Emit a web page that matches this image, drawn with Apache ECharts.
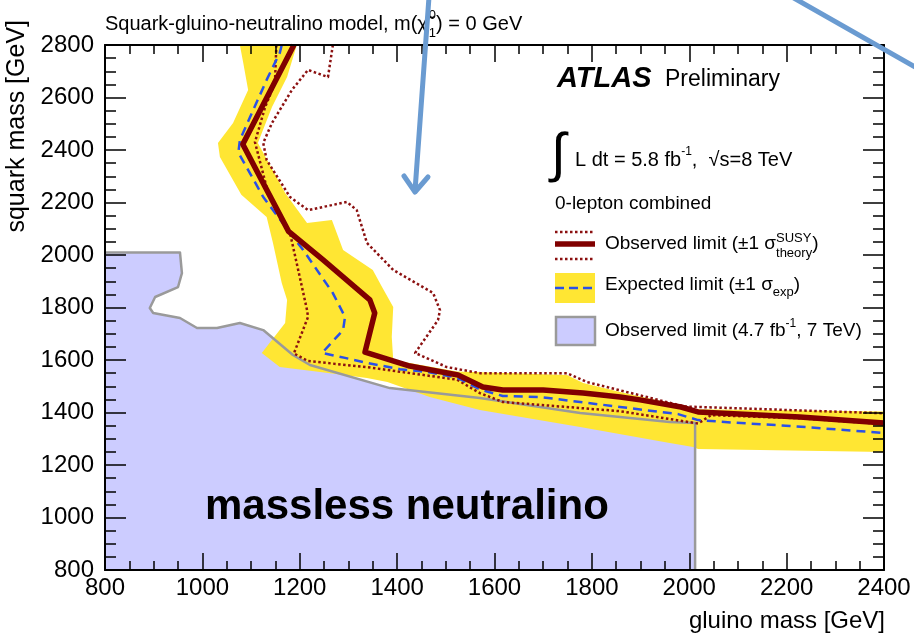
<!DOCTYPE html>
<html>
<head>
<meta charset="utf-8">
<script src="https://cdn.jsdelivr.net/npm/echarts@6/dist/echarts.min.js"></script>
<style>
html,body{margin:0;padding:0;background:#fff;}
#chart{width:914px;height:635px;}
</style>
</head>
<body>
<div id="chart"></div>
<script>
// ---- axis ranges [min, max, major step] ----
const gluinoAxis = [800, 2400, 200];
const squarkAxis = [800, 2800, 200];

// ---- data: [gluino mass, squark mass] in GeV ----
const observedLimit = [[1188,2800],[1083,2422],[1177,2090],[1248,1981],[1344,1829],[1354,1779],[1334,1630],[1426,1577],[1525,1543],[1576,1497],[1617,1486],[1700,1486],[1782,1474],[1858,1459],[1899,1448],[1983,1421],[2018,1402],[2227,1383],[2400,1360]];
const observedUp = [[1268,2800],[1258,2678],[1217,2705],[1184,2629],[1143,2503],[1125,2427],[1132,2362],[1180,2221],[1217,2171],[1297,2202],[1317,2171],[1338,2046],[1392,1943],[1474,1855],[1488,1790],[1484,1752],[1437,1627],[1502,1573],[1570,1550],[1749,1550],[1790,1516],[1990,1423],[2400,1397]];
const observedDown = [[1152,2800],[1149,2655],[1129,2564],[1108,2430],[1135,2236],[1180,2084],[1215,1790],[1217,1764],[1188,1625],[1217,1596],[1338,1573],[1523,1525],[1570,1474],[1617,1440],[1776,1417],[1858,1405],[2018,1358],[2045,1390],[2227,1378],[2400,1356]];
const expectedLimit = [[1163,2800],[1159,2770],[1132,2667],[1077,2438],[1074,2390],[1125,2221],[1180,2084],[1207,2019],[1268,1855],[1293,1764],[1289,1714],[1246,1627],[1293,1608],[1338,1589],[1406,1565],[1460,1555],[1523,1533],[1570,1488],[1617,1463],[1693,1459],[1776,1440],[1858,1421],[1977,1394],[2018,1371],[2088,1362],[2207,1349],[2400,1322]];
const bandUpper = [[1194,2800],[1174,2678],[1143,2564],[1114,2427],[1170,2236],[1215,2122],[1266,2133],[1289,2019],[1350,1943],[1369,1878],[1392,1802],[1389,1688],[1392,1600],[1523,1556],[1749,1543],[1782,1512],[1858,1478],[1983,1427],[2018,1412],[2400,1404]];
const bandLower = [[1077,2800],[1084,2731],[1094,2629],[1063,2503],[1032,2427],[1036,2373],[1080,2230],[1132,2145],[1145,2046],[1163,1893],[1174,1829],[1170,1741],[1122,1627],[1159,1573],[1242,1554],[1338,1531],[1380,1516],[1467,1459],[1570,1410],[1776,1345],[1960,1284],[2008,1269],[2018,1261],[2400,1250]];
const prev7TeV = [[800,2010],[954,2010],[958,1931],[950,1878],[903,1840],[892,1798],[899,1779],[954,1760],[989,1722],[1030,1722],[1077,1741],[1125,1714],[1186,1619],[1221,1581],[1385,1493],[1570,1455],[1776,1398],[1960,1364],[2012,1360],[2012,800]];
const prev7TeVCorner = [[800,800]];

const FONT = "'Liberation Sans', Arial, Helvetica, sans-serif";
const C_YELLOW = '#ffe633', C_PURPLE = '#ccccff', C_GREY = '#9a9a9a';
const C_RED = '#800000', C_DOT = '#8b1010', C_BLUE = '#2a50e8', C_ARROW = '#6a9bd1';

const mctx = document.createElement('canvas').getContext('2d');
function fontStr(p){ return (p.italic?'italic ':'') + (p.bold?'bold ':'') + p.size + 'px ' + FONT; }
function run(x, y, pieces){
  const out = []; let cx = x, start = x;
  for (const p of pieces){
    const f = fontStr(p); mctx.font = f; const w = mctx.measureText(p.m !== undefined ? p.m : p.t).width;
    let px;
    if (p.stack){ px = start + (p.dx||0); cx = Math.max(cx, px + w); }
    else { px = cx + (p.dx||0); start = px; cx = px + w; }
    out.push({type:'text', x:px, y:y + (p.dy||0), z:50, silent:true,
      style:{text:p.t, font:f, fill:'#000', textAlign:'left', textVerticalAlign:'middle', align:'left', verticalAlign:'middle'}});
  }
  return out;
}

function polySeries(name, pts, style, z){
  return {type:'custom', name, xAxisIndex:0, yAxisIndex:0, z, clip:true, silent:true,
    data: pts, encode:{x:0, y:1},
    renderItem(params, api){
      if (params.dataIndex !== 0) return null;
      return {type:'polygon', shape:{points: pts.map(p => api.coord(p))}, style};
    }};
}
function lineSeries(name, pts, lineStyle, z){
  return {type:'line', name, data: pts, xAxisIndex:0, yAxisIndex:0, symbol:'none', showSymbol:false,
    silent:true, clip:true, z, lineStyle: Object.assign({cap:'butt', join:'round'}, lineStyle)};
}

const tickStyle = {color:'#000', width:1.5};
const plain = v => String(v);
function xAx(pos, label){
  return {type:'value', position:pos, min:gluinoAxis[0], max:gluinoAxis[1], interval:gluinoAxis[2], z:10,
    axisLine:{show:true, onZero:false, lineStyle:{color:'#000', width:2}},
    axisTick:{show:true, inside:true, length:17, lineStyle:tickStyle},
    minorTick:{show:true, splitNumber:4, length:9, lineStyle:tickStyle},
    splitLine:{show:false},
    axisLabel:{show:label, color:'#000', fontSize:24, fontFamily:FONT, margin:6, formatter:plain}};
}
function yAx(pos, label){
  return {type:'value', position:pos, min:squarkAxis[0], max:squarkAxis[1], interval:squarkAxis[2], z:10,
    axisLine:{show:true, onZero:false, lineStyle:{color:'#000', width:2}},
    axisTick:{show:true, inside:true, length:21, lineStyle:tickStyle},
    minorTick:{show:true, splitNumber:4, length:11, lineStyle:tickStyle},
    splitLine:{show:false},
    axisLabel:{show:label, color:'#000', fontSize:24, fontFamily:FONT, margin:11, formatter:plain}};
}

const bandPoly = bandUpper.concat(bandLower.slice().reverse());
const prevPoly = prev7TeVCorner.concat(prev7TeV);

const graphics = [];
// title
graphics.push(...run(105, 24, [
  {t:'Squark-gluino-neutralino model, m(', size:20},
  {t:'\u03C7\u0303', m:'\u03C7', size:20},
  {t:'0', size:13, dy:-9, dx:1},
  {t:'1', size:13, dy:9, stack:true},
  {t:') = 0 GeV', size:20}
]));
// axis titles
graphics.push({type:'text', x:17, y:20, rotation:Math.PI/2, z:50, silent:true,
  style:{text:'squark mass [GeV]', font:'25px ' + FONT, fill:'#000', textAlign:'right', textVerticalAlign:'middle', align:'right', verticalAlign:'middle'}});
graphics.push({type:'text', x:885, y:621, z:50, silent:true,
  style:{text:'gluino mass [GeV]', font:'24px ' + FONT, fill:'#000', textAlign:'right', textVerticalAlign:'middle', align:'right', verticalAlign:'middle'}});
// ATLAS label
graphics.push(...run(557, 79, [{t:'ATLAS', size:29, bold:true, italic:true}]));
graphics.push(...run(665, 80, [{t:'Preliminary', size:23}]));
graphics.push(...run(551, 156, [{t:'\u222B', size:54}]));
graphics.push(...run(575, 160, [
  {t:'L dt = 5.8 fb', size:20},
  {t:'-1', size:12, dy:-8},
  {t:',  \u221As=8 TeV', size:20}
]));
graphics.push(...run(555, 204, [{t:'0-lepton combined', size:19}]));
// legend entry 1
graphics.push({type:'line', z:50, silent:true, shape:{x1:555,y1:232,x2:595,y2:232}, style:{stroke:C_DOT, lineWidth:2.5, lineDash:[2.5,2.5]}});
graphics.push({type:'line', z:50, silent:true, shape:{x1:555,y1:244,x2:595,y2:244}, style:{stroke:C_RED, lineWidth:5.5}});
graphics.push({type:'line', z:50, silent:true, shape:{x1:555,y1:259,x2:595,y2:259}, style:{stroke:C_DOT, lineWidth:2.5, lineDash:[2.5,2.5]}});
graphics.push(...run(605, 244, [
  {t:'Observed limit (\u00B11 \u03C3', size:19},
  {t:'SUSY', size:13, dy:-6},
  {t:'theory', size:13, dy:9, stack:true},
  {t:')', size:19}
]));
// legend entry 2
graphics.push({type:'rect', z:50, silent:true, shape:{x:555,y:273,width:40,height:30}, style:{fill:C_YELLOW}});
graphics.push({type:'line', z:51, silent:true, shape:{x1:555,y1:288,x2:595,y2:288}, style:{stroke:C_BLUE, lineWidth:2.5, lineDash:[9,5]}});
graphics.push(...run(605, 285, [
  {t:'Expected limit (\u00B11 \u03C3', size:19},
  {t:'exp', size:13, dy:7},
  {t:')', size:19}
]));
// legend entry 3
graphics.push({type:'rect', z:50, silent:true, shape:{x:556,y:317,width:39,height:28}, style:{fill:C_PURPLE, stroke:C_GREY, lineWidth:2.5}});
graphics.push(...run(605, 331, [
  {t:'Observed limit (4.7 fb', size:19},
  {t:'-1', size:12, dy:-7},
  {t:', 7 TeV)', size:19}
]));
// big label
graphics.push(...run(205, 507, [{t:'massless neutralino', size:42, bold:true}]));
// overlaid annotation arrows
graphics.push({type:'line', z:100, silent:true, shape:{x1:429,y1:-3,x2:415,y2:191}, style:{stroke:C_ARROW, lineWidth:5, lineCap:'round'}});
graphics.push({type:'polyline', z:100, silent:true, shape:{points:[[404,176],[415,192],[428,177]]}, style:{stroke:C_ARROW, lineWidth:5, lineCap:'round', lineJoin:'round', fill:null}});
graphics.push({type:'line', z:100, silent:true, shape:{x1:792,y1:-3,x2:917,y2:68}, style:{stroke:C_ARROW, lineWidth:5, lineCap:'round'}});

const option = {
  animation:false,
  backgroundColor:'#fff',
  textStyle:{fontFamily:FONT},
  grid:{left:105, right:30, top:45, bottom:65, show:false},
  xAxis:[xAx('bottom', true), xAx('top', false)],
  yAxis:[yAx('left', true), yAx('right', false)],
  series:[
    polySeries('Observed limit (4.7 fb-1, 7 TeV)', prevPoly, {fill:C_PURPLE}, 1),
    polySeries('Expected limit band', bandPoly, {fill:C_YELLOW}, 2),
    lineSeries('7 TeV boundary', prev7TeV, {color:C_GREY, width:2.5}, 3),
    lineSeries('Observed +1 sigma', observedUp, {color:C_DOT, width:2.5, type:[2.5,2.5]}, 4),
    lineSeries('Observed -1 sigma', observedDown, {color:C_DOT, width:2.5, type:[2.5,2.5]}, 4),
    lineSeries('Expected limit', expectedLimit, {color:C_BLUE, width:2.5, type:[9,6]}, 5),
    lineSeries('Observed limit', observedLimit, {color:C_RED, width:5.5}, 6)
  ],
  graphic:{elements:graphics}
};
const chart = echarts.init(document.getElementById('chart'), null, {renderer:'canvas'});
chart.setOption(option);
</script>
</body>
</html>
